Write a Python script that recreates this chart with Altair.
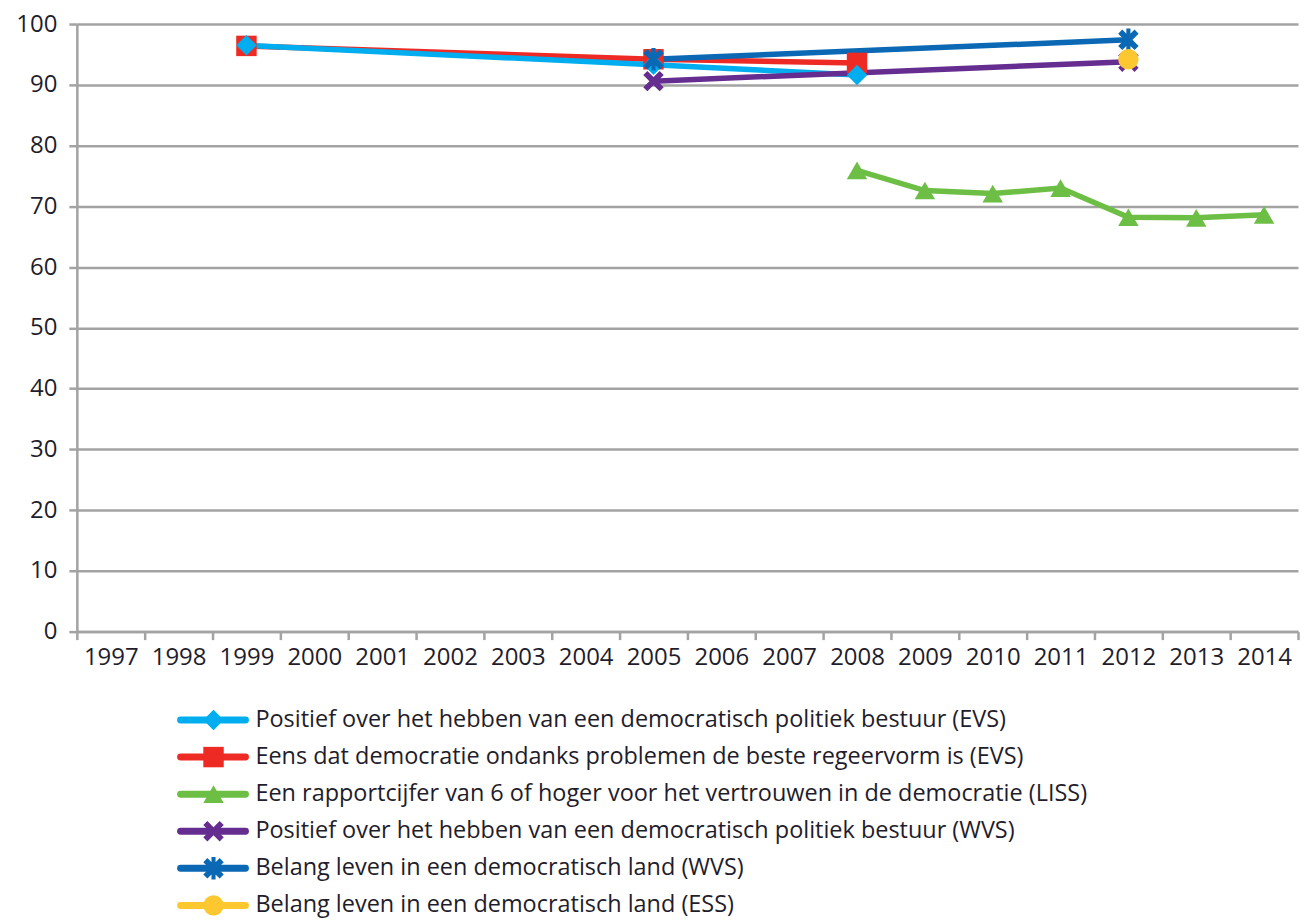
import altair as alt
import pandas as pd

years = [str(y) for y in range(1997, 2015)]

series_names = [
    "Positief over het hebben van een democratisch politiek bestuur (EVS)",
    "Eens dat democratie ondanks problemen de beste regeervorm is (EVS)",
    "Een rapportcijfer van 6 of hoger voor het vertrouwen in de democratie (LISS)",
    "Positief over het hebben van een democratisch politiek bestuur (WVS)",
    "Belang leven in een democratisch land (WVS)",
    "Belang leven in een democratisch land (ESS)",
]
series_colors = ["#00aeef", "#ee2a24", "#6dbe45", "#662d91", "#0a68b4", "#fdc82f"]

X_PATH = "M-1,-0.6 L-0.6,-1 L0,-0.4 L0.6,-1 L1,-0.6 L0.4,0 L1,0.6 L0.6,1 L0,0.4 L-0.6,1 L-1,0.6 L-0.4,0 Z"
AST_PATH = X_PATH + " M-0.2,-1.1 L0.2,-1.1 L0.2,1.1 L-0.2,1.1 Z"
series_shapes = ["diamond", "square", "triangle-up", X_PATH, AST_PATH, "circle"]

evs_pos_years = ["1999", "2005", "2008"]
evs_pos_vals = [96.5, 93.3, 91.6]
evs_best_years = ["1999", "2005", "2008"]
evs_best_vals = [96.4, 94.2, 93.6]
liss_years = ["2008", "2009", "2010", "2011", "2012", "2013", "2014"]
liss_vals = [75.9, 72.6, 72.1, 73.0, 68.2, 68.1, 68.6]
wvs_pos_years = ["2005", "2012"]
wvs_pos_vals = [90.6, 93.8]
wvs_imp_years = ["2005", "2012"]
wvs_imp_vals = [94.2, 97.4]
ess_imp_years = ["2012"]
ess_imp_vals = [94.2]

all_years = [evs_pos_years, evs_best_years, liss_years, wvs_pos_years, wvs_imp_years, ess_imp_years]
all_vals = [evs_pos_vals, evs_best_vals, liss_vals, wvs_pos_vals, wvs_imp_vals, ess_imp_vals]

# draw order (later on top)
draw_order = [1, 0, 2, 3, 4, 5]
rows = []
for i in draw_order:
    for yr, v in zip(all_years[i], all_vals[i]):
        rows.append({"series": series_names[i], "year": yr, "value": v, "ord": draw_order.index(i)})
df = pd.DataFrame(rows)

FONT = "Open Sans"
TXT = "#1f1d2b"
GRID = "#a3a3a3"

color_scale = alt.Scale(domain=series_names, range=series_colors)
shape_scale = alt.Scale(domain=series_names, range=series_shapes)

x_enc = alt.X(
    "year:N",
    scale=alt.Scale(domain=years, paddingInner=0, paddingOuter=0),
    axis=alt.Axis(
        title=None, labelAngle=0, tickBand="extent", grid=False,
        domainColor=GRID, domainWidth=2.5, tickColor=GRID, tickWidth=2.5, tickSize=8,
        labelFont=FONT, labelFontSize=24, labelColor=TXT, labelPadding=6,
    ),
)
y_enc = alt.Y(
    "value:Q",
    scale=alt.Scale(domain=[0, 100], nice=False),
    axis=alt.Axis(
        title=None, values=list(range(0, 101, 10)), grid=True,
        gridColor=GRID, gridWidth=2.5, domainColor=GRID, domainWidth=2.5,
        tickColor=GRID, tickWidth=2.5, tickSize=8,
        labelFont=FONT, labelFontSize=24, labelColor=TXT, labelPadding=12,
    ),
)

lines = alt.Chart(df).mark_line(strokeWidth=5.5).encode(
    x=x_enc, y=y_enc,
    color=alt.Color("series:N", scale=color_scale, legend=None),
    order=alt.Order("ord:Q"),
    detail="series:N",
)
points = alt.Chart(df).mark_point(filled=True, opacity=1, size=420).encode(
    x=x_enc, y=y_enc,
    color=alt.Color("series:N", scale=color_scale, legend=None),
    shape=alt.Shape("series:N", scale=shape_scale, legend=None),
    order=alt.Order("ord:Q"),
)
main = alt.layer(lines, points).properties(
    width=1224, height=609, view=alt.ViewBackground(stroke="transparent", strokeWidth=0)
)

leg_df = pd.DataFrame({"series": series_names})
leg_y = alt.Y("series:N", sort=series_names, scale=alt.Scale(type="point", padding=0.5), axis=None)
leg_line = alt.Chart(leg_df).mark_rule(strokeWidth=7, strokeCap="round").encode(
    x=alt.value(104), x2=alt.value(169), y=leg_y,
    color=alt.Color("series:N", scale=color_scale, legend=None),
)
leg_pt = alt.Chart(leg_df).mark_point(filled=True, opacity=1, size=420).encode(
    x=alt.value(137), y=leg_y,
    color=alt.Color("series:N", scale=color_scale, legend=None),
    shape=alt.Shape("series:N", scale=shape_scale, legend=None),
)
leg_txt = alt.Chart(leg_df).mark_text(
    align="left", baseline="middle", font=FONT, fontSize=23.5, color=TXT
).encode(x=alt.value(179), y=leg_y, text="series:N")
legend = alt.layer(leg_line, leg_pt, leg_txt).properties(
    width=1224, height=223, view=alt.ViewBackground(stroke="transparent", strokeWidth=0)
)

chart = alt.vconcat(main, legend, spacing=32).properties(
    padding={"left": 7, "top": 3, "right": 0, "bottom": 0}
).configure_view(strokeWidth=0, stroke="transparent").configure(font=FONT)

chart.save("out.html", embed_options={"renderer": "svg", "actions": False})
